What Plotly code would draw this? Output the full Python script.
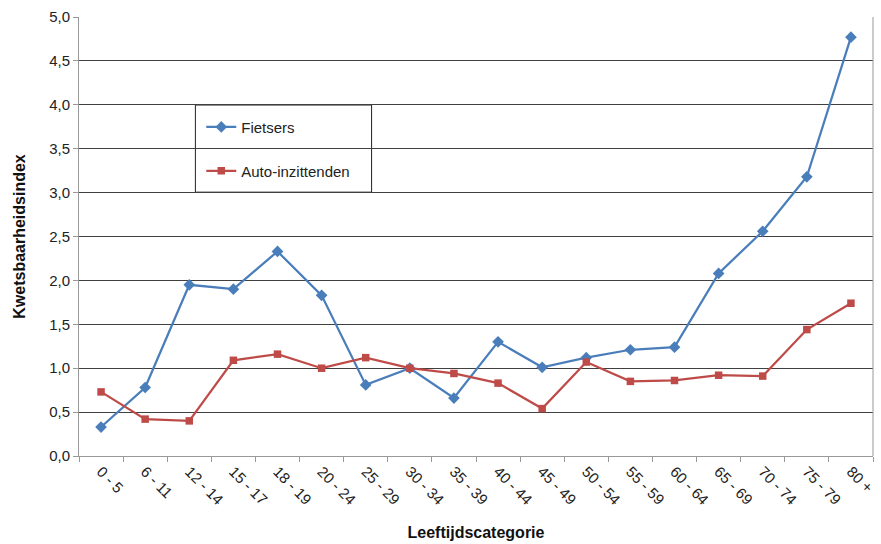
import plotly.graph_objects as go

# Leeftijdscategorieën en kwetsbaarheidsindex per vervoerswijze
categories = ["0 - 5", "6 - 11", "12 - 14", "15 - 17", "18 - 19", "20 - 24",
              "25 - 29", "30 - 34", "35 - 39", "40 - 44", "45 - 49", "50 - 54",
              "55 - 59", "60 - 64", "65 - 69", "70 - 74", "75 - 79", "80 +"]
fietsers = [0.33, 0.78, 1.95, 1.90, 2.33, 1.83, 0.81, 1.00, 0.66, 1.30,
            1.01, 1.12, 1.21, 1.24, 2.08, 2.56, 3.18, 4.77]
auto_inzittenden = [0.73, 0.42, 0.40, 1.09, 1.16, 1.00, 1.12, 1.00, 0.94, 0.83,
                    0.54, 1.07, 0.85, 0.86, 0.92, 0.91, 1.44, 1.74]
y_ticks = [0.0, 0.5, 1.0, 1.5, 2.0, 2.5, 3.0, 3.5, 4.0, 4.5, 5.0]

BLUE = "#4A7EBB"
RED = "#BE4B48"
FONT = "Liberation Sans, Arial, sans-serif"

fig = go.Figure()
fig.add_trace(go.Scatter(
    x=categories, y=fietsers, name="Fietsers", mode="lines+markers",
    line=dict(color=BLUE, width=2.25),
    marker=dict(symbol="diamond", size=9, color=BLUE),
    legend="legend", showlegend=True,
))
fig.add_trace(go.Scatter(
    x=categories, y=auto_inzittenden, name="Auto-inzittenden", mode="lines+markers",
    line=dict(color=RED, width=2.25),
    marker=dict(symbol="square", size=7.5, color=RED),
    legend="legend2", showlegend=True,
))

# legend frame: white box covering the gridlines, beneath the traces
fig.add_shape(type="rect", xref="paper", yref="paper",
              x0=0.1466, x1=0.3685, y0=0.601, y1=0.7995,
              line=dict(color="#222222", width=1), fillcolor="white", layer="between")

legend_common = dict(
    bgcolor="rgba(0,0,0,0)", borderwidth=0,
    font=dict(family=FONT, size=15, color="#222222"),
    xanchor="left", yanchor="middle", itemwidth=30,
)

fig.update_layout(
    width=881, height=544,
    margin=dict(l=79, r=4, t=17, b=88),
    paper_bgcolor="white", plot_bgcolor="white",
    separators=", ",
    showlegend=True,
    font=dict(family=FONT, size=15, color="#222222"),
    legend=dict(x=0.154, y=0.749, **legend_common),
    legend2=dict(x=0.154, y=0.649, **legend_common),
    xaxis=dict(
        type="category", categoryorder="array", categoryarray=categories,
        range=[-0.5, len(categories) - 0.5],
        tickangle=45, tickson="boundaries", ticks="outside", ticklen=5,
        tickcolor="#999999", showline=True, linecolor="#999999", linewidth=1,
        mirror=False, showgrid=False,
        tickfont=dict(family=FONT, size=15, color="#222222"),
        title=dict(text="<b>Leeftijdscategorie</b>", standoff=19,
                   font=dict(family=FONT, size=16, color="#111111")),
    ),
    yaxis=dict(
        range=[0, 5], tickvals=y_ticks, tickformat=".1f",
        ticks="outside", ticklen=5, tickcolor="#999999",
        showline=True, linecolor="#999999", linewidth=1,
        showgrid=True, gridcolor="#404040", gridwidth=1, zeroline=False,
        tickfont=dict(family=FONT, size=15, color="#222222"),
        title=dict(text="<b>Kwetsbaarheidsindex</b>", standoff=19,
                   font=dict(family=FONT, size=16, color="#111111")),
    ),
)

# right border of the plot area
fig.add_shape(type="line", xref="paper", yref="paper", x0=1, x1=1, y0=0, y1=1,
              line=dict(color="#999999", width=1))

fig.write_html("out.html")
